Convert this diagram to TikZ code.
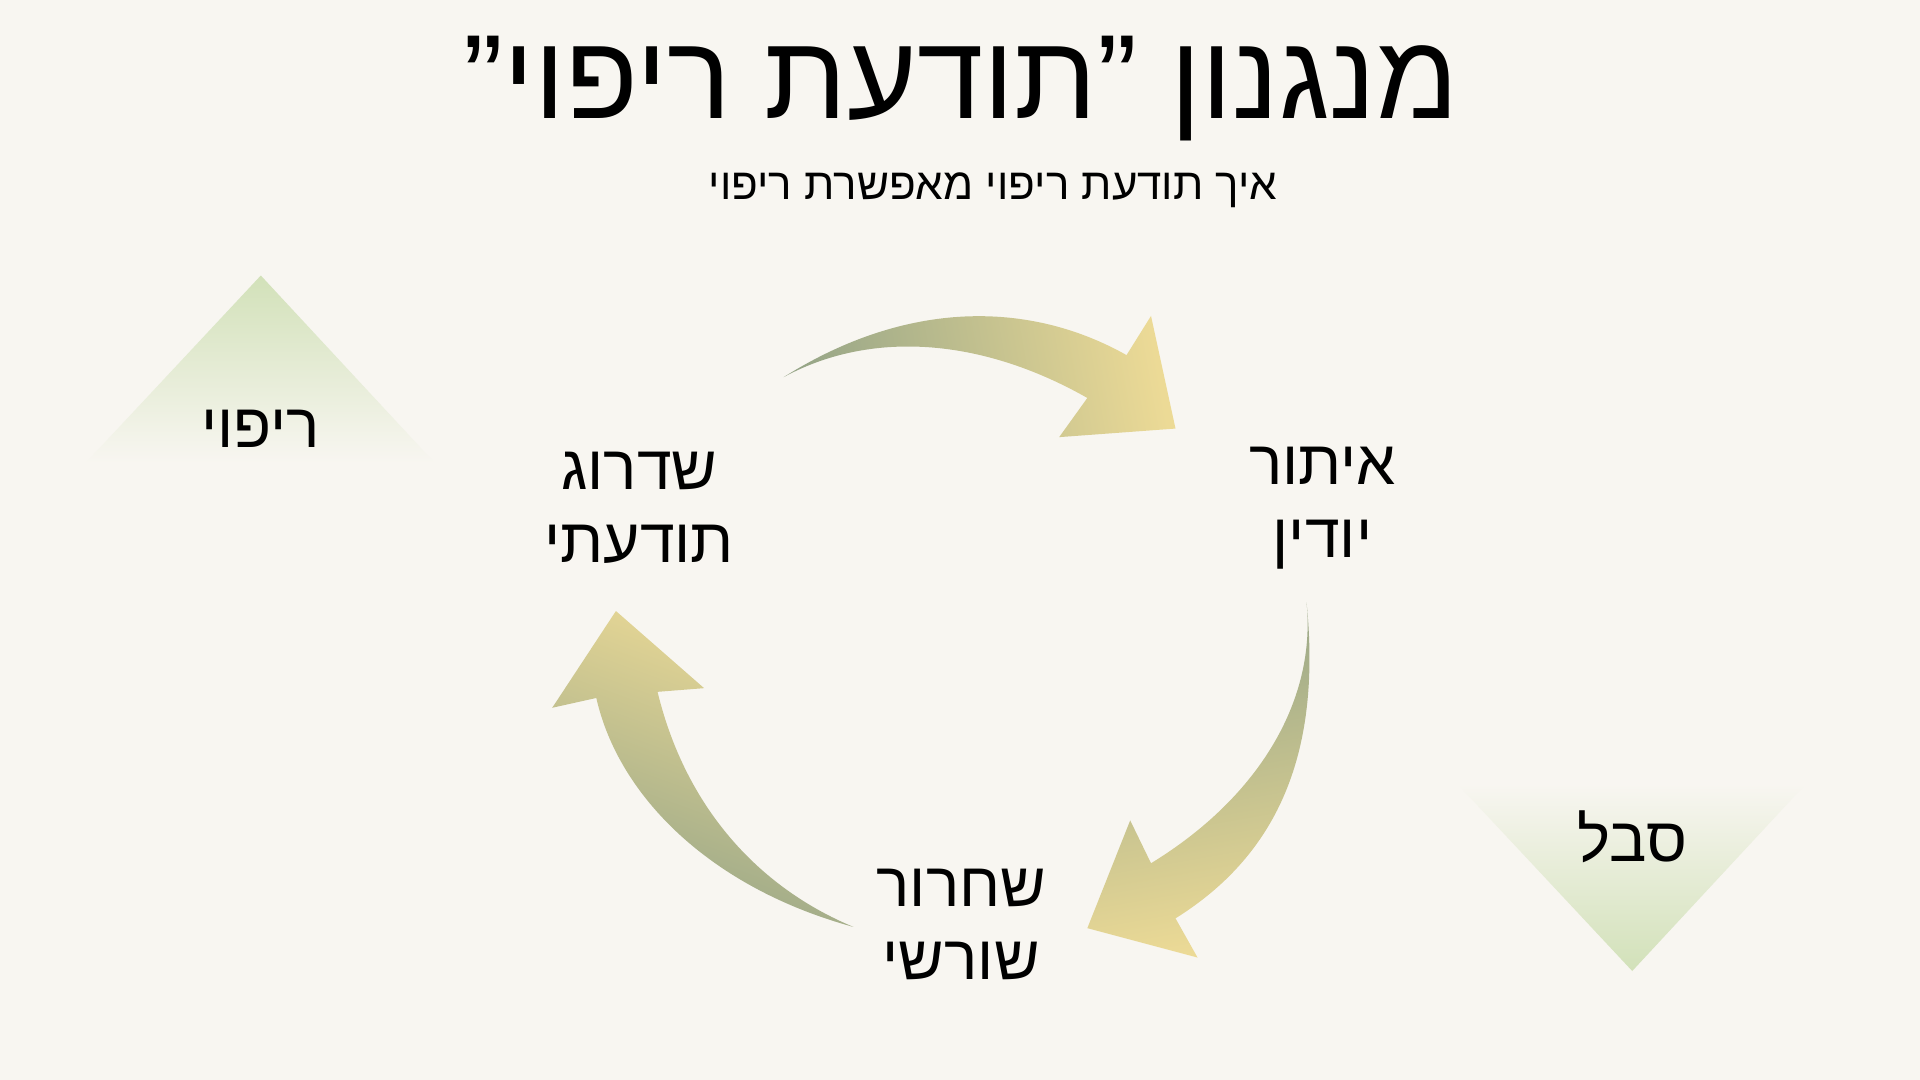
\documentclass[tikz,border=0pt]{standalone}
\usepackage{fontspec}
\newfontfamily\hebfont[Script=Hebrew]{Liberation Sans}
\TeXXeTstate=1
\newcommand{\heb}[1]{{\hebfont\beginR #1\endR}}
\definecolor{bg}{RGB}{248,246,241}
\definecolor{gr}{RGB}{150,165,135}
\definecolor{yl}{RGB}{236,218,150}
\definecolor{lg}{RGB}{210,225,185}
\tikzset{lab/.style={align=center,font=\fontsize{14.5}{17}\selectfont,text=black}}
\begin{document}
\begin{tikzpicture}[x=0.01cm,y=-0.01cm]
\fill[bg] (0,0) rectangle (1568,882);
\useasboundingbox (0,0) rectangle (1568,882);
% triangles
\shade[top color=lg,bottom color=bg] (213,225) -- (355,378) -- (70,378) -- cycle;
\shade[bottom color=lg,top color=bg] (1333,793) -- (1475,640) -- (1190,640) -- cycle;
% arrows
\shade[left color=gr,right color=yl,shading angle=100] (640,308) .. controls (740,245) and (840,245) .. (920,290) -- (940,258) -- (960,350) -- (865,357) -- (888,325) .. controls (800,275) and (710,270) .. (640,308) -- cycle;
\shade[top color=gr,bottom color=yl,shading angle=10] (1067,492) .. controls (1080,620) and (1040,700) .. (960,750) -- (978,782) -- (888,758) -- (923,670) -- (940,705) .. controls (1030,650) and (1075,570) .. (1067,492) -- cycle;
\shade[bottom color=gr,top color=yl,shading angle=-20] (697,757) .. controls (580,725) and (505,650) .. (487,570) -- (451,578) -- (503,499) -- (575,562) -- (537,565) .. controls (560,660) and (620,725) .. (697,757) -- cycle;
% texts
\node[font=\fontsize{27.8}{32}\selectfont] (title) at (785,72) {\heb{מנגנון ”תודעת ריפוי”}};
\node[font=\fontsize{10.2}{13}\selectfont] (sub) at (811,155) {\heb{איך תודעת ריפוי מאפשרת ריפוי}};
\node[lab] (a) at (522,415) {\heb{שדרוג}\\\heb{תודעתי}};
\node[lab] (b) at (1080,415) {\heb{איתור}\\\heb{יודין}};
\node[lab] (c) at (785,755) {\heb{שחרור}\\\heb{שורשי}};
\node[lab] (d) at (213,350) {\heb{ריפוי}};
\node[lab] (e) at (1333,683) {\heb{סבל}};
\end{tikzpicture}
\end{document}
